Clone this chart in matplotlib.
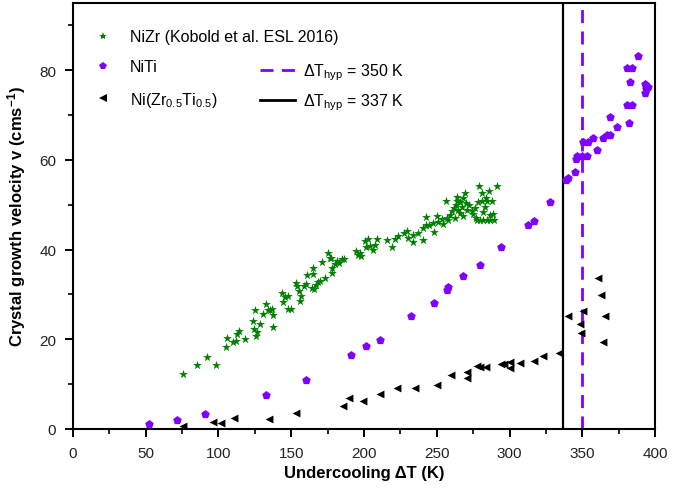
import numpy as np
import matplotlib
matplotlib.use("Agg")
import matplotlib.pyplot as plt
from matplotlib.lines import Line2D
from matplotlib.ticker import MultipleLocator

plt.rcParams['font.family'] = ['Liberation Sans', 'DejaVu Sans']
plt.rcParams['mathtext.fontset'] = 'custom'
plt.rcParams['mathtext.rm'] = 'Liberation Sans'
plt.rcParams['mathtext.it'] = 'Liberation Sans:italic'
plt.rcParams['mathtext.bf'] = 'Liberation Sans:bold'

# NiZr (Kobold et al.) - undercooling (K), velocity (cm/s)
nizr_dT = [75.4, 85.5, 92.3, 98.3, 105, 106.2, 110, 112, 112.6, 114.2, 118.3, 123.5, 124.4, 125.3,
           125.8, 126.7, 128.3, 130.6, 132.4, 133.8, 135.2, 136.5, 137.7, 137.2, 143.9, 144.6, 145.7,
           148, 148, 150, 153, 154, 155.2, 156.4, 156, 158.8, 160.2, 161, 164, 165.2, 165.2, 165.9,
           167, 168.2, 169.8, 171.4, 173, 175.5, 176.6, 177.4, 178, 178, 180, 181.3, 183, 185, 186.6,
           194.5, 196, 197.3, 198, 200.7, 201.4, 202.5, 204.2, 206.5, 207.6, 208.7, 216, 219.3, 221.4,
           223.7, 227.5, 229.3, 230.5, 233.9, 233.9, 237.4, 240.3, 240.3, 242.6, 242.4, 245, 247.3,
           247.8, 250, 251, 253.4, 254.6, 256.4, 256.7, 258, 259, 260.4, 261.5, 262.7, 263.3, 263.8,
           264.2, 264.8, 266, 266, 267, 267.7, 268, 269.4, 270, 271, 272.3, 274, 275, 276.3, 277,
           277.5, 278.6, 279.3, 279.8, 280.8, 280.8, 282, 282, 283.1, 283.8, 284.4, 284.7, 286, 286.7,
           286.7, 287.8, 288.5, 289, 291.2]
nizr_v = [12.3, 14.2, 16.0, 14.2, 18.2, 20.3, 19.5, 19.7, 21.1, 21.9, 20.0, 24.1, 22.4, 26.6,
          20.7, 21.6, 23.3, 25.7, 27.9, 26.5, 26.6, 26.7, 25.4, 22.7, 30.3, 28.4, 29.5,
          29.7, 26.8, 26.7, 32.5, 31.9, 30.8, 29.6, 28.5, 31.9, 32.3, 34.4, 31.4, 35.9, 34.5, 31.3,
          32.2, 32.7, 33.1, 37.3, 33.6, 39.2, 38.2, 38.1, 35.8, 34.7, 36.8, 37.5, 37.1, 38.0, 38.0,
          39.7, 38.8, 39.2, 38.5, 42.0, 40.6, 42.4, 40.8, 40.0, 41.1, 42.4, 42.1, 40.5, 42.3,
          43.0, 43.8, 44.2, 42.6, 43.3, 41.6, 43.8, 42.2, 44.8, 45.5, 47.2, 45.4, 46.0,
          43.9, 47.5, 46.2, 46.8, 45.8, 50.9, 47.0, 46.6, 47.7, 48.6, 49.2, 47.0, 50.0, 50.9,
          51.8, 48.9, 48.1, 50.7, 49.6, 47.4, 51.5, 52.6, 50.3, 48.9, 50.0, 48.6, 47.9, 49.2, 47.0,
          46.6, 50.7, 54.1, 46.6, 52.7, 50.9, 48.3, 46.6, 49.4, 51.6, 46.6, 50.9, 53.0, 46.6,
          47.6, 50.9, 48.0, 46.6, 54.2]

# NiTi
niti_dT = [52.4, 71.5, 90.5, 133, 160, 191, 201.4, 211, 232.3, 248, 257, 258, 268, 280, 294,
           313, 317, 328, 338.6, 340, 345, 345.7, 346, 349.6, 353.5, 350.7, 354, 357, 360.4, 364,
           367, 369, 369, 374, 382, 380.5, 384, 383, 380.5, 384, 388, 393, 394, 395, 393]
niti_v = [1.0, 2.0, 3.3, 7.6, 11.0, 16.5, 18.6, 19.9, 25.1, 28.2, 31.0, 31.7, 34.1, 36.5, 40.6,
          45.5, 46.3, 50.7, 55.5, 55.9, 57.2, 60.3, 60.9, 60.9, 60.9, 63.9, 63.9, 64.8, 62.2, 64.8,
          65.6, 65.6, 69.5, 67.4, 68.3, 72.3, 72.3, 77.4, 80.4, 80.4, 83.2, 76.9, 75.8, 76.2, 75.0]

# Ni(Zr0.5Ti0.5)
nizrti_dT = [75.4, 96, 101.5, 111, 135, 153, 185.8, 190, 199, 211, 223, 235, 250, 260, 270.5,
             270.5, 277.5, 280, 284, 294, 296, 300, 300, 307, 317, 323, 334, 340.4, 350.7, 348.5,
             349, 360.6, 363, 365.6, 364]
nizrti_v = [0.7, 1.6, 1.3, 2.5, 2.2, 3.6, 5.1, 6.8, 6.3, 7.8, 9.1, 9.1, 9.7, 12.1, 12.6,
            11.4, 14.0, 13.9, 13.9, 14.5, 14.5, 14.9, 13.5, 14.6, 15.2, 16.3, 16.9, 25.1, 26.4, 23.5,
            21.5, 33.6, 29.9, 25.3, 19.5]

dT_hyp_niti = 350
dT_hyp_nizrti = 337

green = '#008000'
purple = '#8000ff'

fig = plt.figure(figsize=(6.81, 4.89), dpi=100)
ax = fig.add_axes([0.107, 0.1207, 0.855, 0.8713])

ax.scatter(nizr_dT, nizr_v, marker='*', s=45, color=green, linewidths=0, zorder=3)
ax.scatter(niti_dT, niti_v, marker='p', s=42, color=purple, linewidths=0, zorder=3)
ax.scatter(nizrti_dT, nizrti_v, marker='<', s=32, color='black', linewidths=0, zorder=3)
ax.axvline(dT_hyp_niti, color=purple, lw=2, dashes=(4.7, 3), zorder=2)
ax.axvline(dT_hyp_nizrti, color='black', lw=1.6, zorder=2)

ax.set_xlim(0, 400)
ax.set_ylim(0, 95)
ax.xaxis.set_major_locator(MultipleLocator(50))
ax.xaxis.set_minor_locator(MultipleLocator(25))
ax.yaxis.set_major_locator(MultipleLocator(20))
ax.yaxis.set_minor_locator(MultipleLocator(10))
ax.tick_params(which='major', length=6, width=1.4, labelsize=11, colors='black', pad=6)
ax.tick_params(which='minor', length=3.5, width=1.2)
ax.tick_params(axis='both', labelcolor='#222222')
for sp in ax.spines.values():
    sp.set_linewidth(1.5)

ax.set_xlabel(r'Undercooling ΔT (K)', fontsize=12, fontweight='bold', labelpad=4)
ax.set_ylabel(r'Crystal growth velocity v (cms$^{\mathbf{-1}}$)', fontsize=12,
              fontweight='bold', labelpad=8)

h1 = [Line2D([], [], ls='none', marker='*', ms=6, color=green, mew=0),
      Line2D([], [], ls='none', marker='p', ms=6, color=purple, mew=0),
      Line2D([], [], ls='none', marker='<', ms=5.5, color='black', mew=0)]
l1 = ['NiZr (Kobold et al. ESL 2016)', 'NiTi', r'Ni(Zr$_{0.5}$Ti$_{0.5}$)']
leg1 = ax.legend(h1, l1, loc='upper left', bbox_to_anchor=(0.01, 0.972), frameon=False,
                 fontsize=11.5, labelspacing=0.95, handlelength=1.2, handletextpad=1.1)
ax.add_artist(leg1)

h2 = [Line2D([], [], color=purple, lw=2, dashes=(4.7, 3)),
      Line2D([], [], color='black', lw=2)]
l2 = [r'ΔT$_{\mathrm{hyp}}$ = 350 K', r'ΔT$_{\mathrm{hyp}}$ = 337 K']
ax.legend(h2, l2, loc='upper left', bbox_to_anchor=(0.297, 0.896), frameon=False,
          fontsize=11.5, labelspacing=0.6, handlelength=2.2, handletextpad=0.5)

fig.savefig('out.png', dpi=100)
